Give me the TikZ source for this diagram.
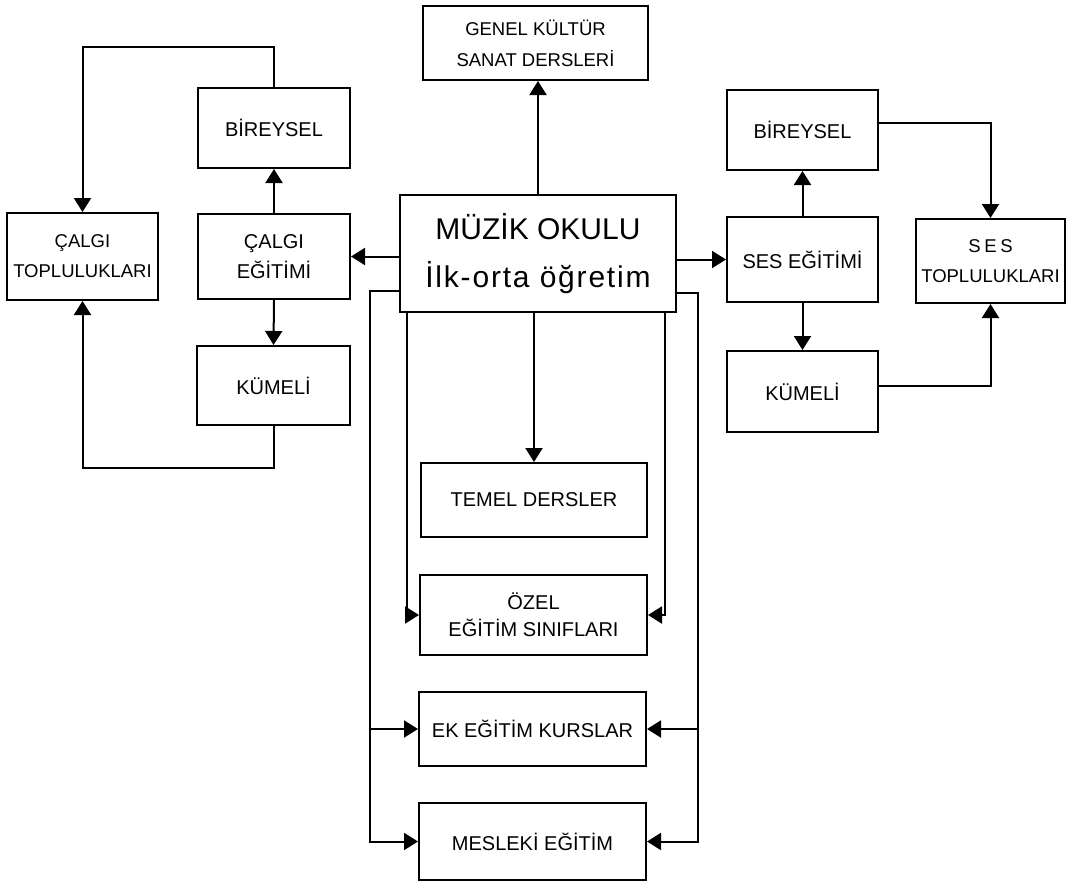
\documentclass[tikz,border=0pt]{standalone}
\usepackage{fontspec}
\setmainfont{Liberation Sans}
\usetikzlibrary{arrows.meta}
\begin{document}
\begin{tikzpicture}[x=1pt,y=-1pt,
  box/.style={draw,line width=2pt,rectangle,inner sep=0pt,align=center,
     font=\fontsize{20}{30}\selectfont},
  arr/.style={line width=2pt,-{Triangle[length=14pt,width=17pt]}}]
\useasboundingbox (0,0) rectangle (1073,884);
\node[box,minimum width=225,minimum height=74,font=\fontsize{18.5}{31}\selectfont] (genel) at (535.5,43) {GENEL KÜLTÜR\\SANAT DERSLERİ};
\node[box,minimum width=276,minimum height=117,font=\fontsize{30}{48}\selectfont] (main) at (538,253.5)
  {MÜZİK OKULU\\{\addfontfeature{LetterSpace=6}İlk-orta öğretim}};
\node[box,minimum width=152,minimum height=80] (lbir) at (274,128) {BİREYSEL};
\node[box,minimum width=152,minimum height=85] (lcal) at (274,256.5) {ÇALGI\\EĞİTİMİ};
\node[box,minimum width=153,minimum height=79] (lkum) at (273.5,385.5) {KÜMELİ};
\node[box,minimum width=151,minimum height=87,font=\fontsize{18.5}{30}\selectfont] (ltop) at (82.5,256.5) {ÇALGI\\TOPLULUKLARI};
\node[box,minimum width=151,minimum height=80] (rbir) at (802.5,130) {BİREYSEL};
\node[box,minimum width=151,minimum height=85] (rses) at (802.5,259.5) {SES EĞİTİMİ};
\node[box,minimum width=151,minimum height=81] (rkum) at (802.5,391.5) {KÜMELİ};
\node[box,minimum width=149,minimum height=84,font=\fontsize{18.5}{30}\selectfont] (rtop) at (990.5,261) {{\addfontfeature{LetterSpace=20}SES}\\TOPLULUKLARI};
\node[box,minimum width=226,minimum height=74] (temel) at (534,500) {TEMEL DERSLER};
\node[box,minimum width=227,minimum height=80,font=\fontsize{20}{27}\selectfont] (ozel) at (533.5,615) {ÖZEL\\EĞİTİM SINIFLARI};
\node[box,minimum width=227,minimum height=74] (ek) at (532.5,729) {EK EĞİTİM KURSLAR};
\node[box,minimum width=227,minimum height=77] (mes) at (532.5,841.5) {MESLEKİ EĞİTİM};
\coordinate (lx) at (370,0);
\coordinate (rx) at (698,0);
\coordinate (ltopy) at (0,47);
\coordinate (lboty) at (0,468);
% center
\draw[arr] (main.north) -- (main.north |- genel.south);
\draw[arr] (temel.north |- main.south) -- (temel.north);
\draw[arr] ([xshift=8pt]main.south west) |- (ozel.west);
\draw[arr] ([xshift=-12pt]main.south east) |- (ozel.east);
\draw[arr] ([yshift=22pt]main.south west) -| (mes.west -| lx) -- (mes.west);
\draw[arr] (ek.west -| lx) -- (ek.west);
\draw[arr] ([yshift=20pt]main.south east) -| (mes.east -| rx) -- (mes.east);
\draw[arr] (ek.east -| rx) -- (ek.east);
% left
\draw[arr] (lcal.east -| main.west) -- (lcal.east);
\draw[arr] (lcal.north) -- (lbir.south);
\draw[arr] (lcal.south) -- (lkum.north);
\draw[arr] (lbir.north) -- (lbir.north |- ltopy) -| (ltop.north);
\draw[arr] (lkum.south) -- (lkum.south |- lboty) -| (ltop.south);
% right
\draw[arr] (rses.west -| main.east) -- (rses.west);
\draw[arr] (rses.north) -- (rbir.south);
\draw[arr] (rses.south) -- (rkum.north);
\draw[arr] ([yshift=7pt]rbir.east) -| (rtop.north);
\draw[arr] ([yshift=6pt]rkum.east) -| (rtop.south);
\end{tikzpicture}
\end{document}
